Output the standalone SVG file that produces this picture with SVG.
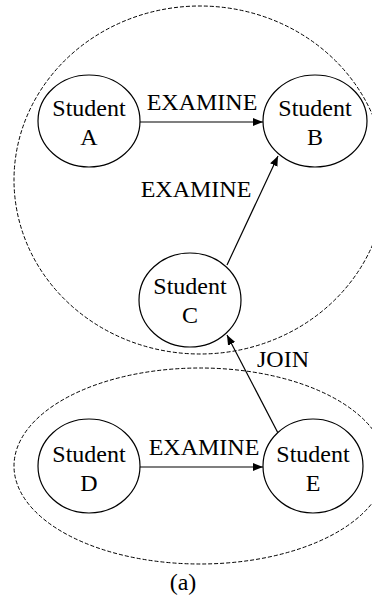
<svg xmlns="http://www.w3.org/2000/svg" width="372" height="598" viewBox="0 0 372 598">
<defs>
<style>
.grp{fill:none;stroke:#000;stroke-width:1;stroke-dasharray:4,2}
.node ellipse{fill:#fff;stroke:#000;stroke-width:1.2}
text{font-family:"Liberation Serif","Times New Roman",serif;font-size:24px;fill:#000;text-anchor:middle}
.edge{stroke:#000;stroke-width:1.2;fill:none;marker-end:url(#ah)}
</style>
<marker id="ah" viewBox="0 0 10 10" refX="10" refY="5" markerWidth="10" markerHeight="10" markerUnits="userSpaceOnUse" orient="auto">
<path d="M0,1 L10,5 L0,9 Z" fill="#000"/>
</marker>
</defs>
<rect width="372" height="598" fill="#fff"/>
<g id="groups">
<ellipse class="grp" cx="200" cy="180" rx="186" ry="174"/>
<ellipse class="grp" cx="200" cy="466" rx="186" ry="98"/>
</g>
<g id="connectors">
<line class="edge" x1="140" y1="122" x2="263" y2="122"/>
<line class="edge" x1="227" y1="265" x2="278" y2="156"/>
<line class="edge" x1="139" y1="467" x2="263" y2="467"/>
<line class="edge" x1="278" y1="433" x2="227" y2="335"/>
<text x="202" y="110">EXAMINE</text>
<text x="196" y="197">EXAMINE</text>
<text x="204" y="455">EXAMINE</text>
<text x="283" y="367">JOIN</text>
</g>
<g id="nodeA" class="node"><ellipse cx="89" cy="121" rx="51" ry="46"/><text x="89" y="116">Student</text><text x="89" y="145">A</text></g>
<g id="nodeB" class="node"><ellipse cx="315" cy="121" rx="52" ry="46"/><text x="315" y="116">Student</text><text x="315" y="145">B</text></g>
<g id="nodeC" class="node"><ellipse cx="190" cy="300" rx="51" ry="47"/><text x="190" y="294">Student</text><text x="190" y="323">C</text></g>
<g id="nodeD" class="node"><ellipse cx="89" cy="466" rx="51" ry="47"/><text x="89" y="462">Student</text><text x="89" y="491">D</text></g>
<g id="nodeE" class="node"><ellipse cx="313" cy="466" rx="50" ry="47"/><text x="313" y="462">Student</text><text x="313" y="491">E</text></g>
<text x="183" y="590">(a)</text>
</svg>
